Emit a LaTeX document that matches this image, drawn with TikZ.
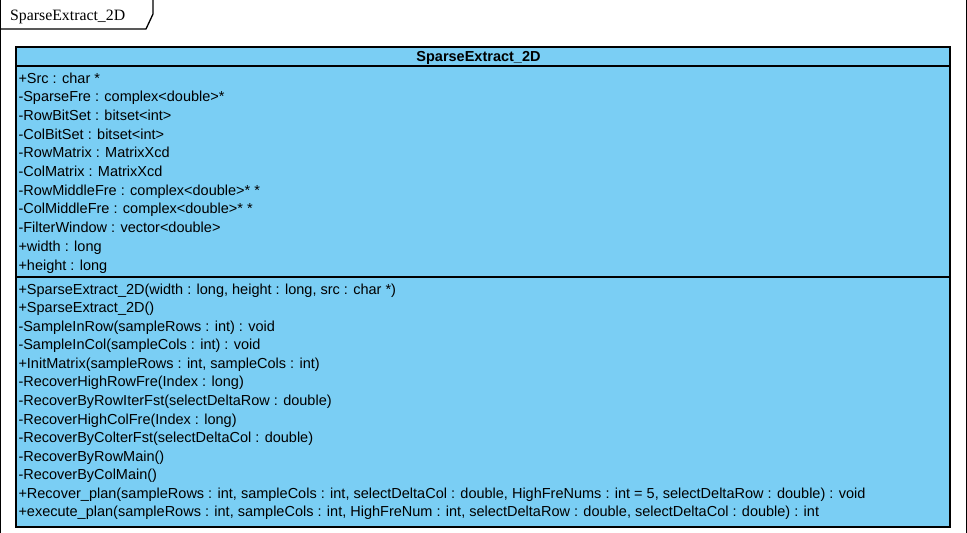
\documentclass[tikz,border=0pt]{standalone}
\usepackage{fontspec}
\setmainfont{Liberation Sans}
\newfontfamily\tabfont{Liberation Serif}
\definecolor{umlblue}{RGB}{122,206,244}
\begin{document}
\begin{tikzpicture}[x=1pt,y=-1pt,
  txt/.style={anchor=base west,inner sep=0pt,outer sep=0pt,font=\fontsize{14.5}{16}\selectfont},
  frameline/.style={line width=1.3pt,black},
  boxline/.style={line width=2pt,black}]
\useasboundingbox (0,0) rectangle (967,533);
% package frame
\draw[frameline] (0.7,540) -- (0.7,-2);
\draw[frameline] (966.3,540) -- (966.3,-2);
\draw[frameline] (153,-2) -- (153,14) -- (146,29) -- (0,29);
\node[anchor=base west,inner sep=0pt,font=\tabfont\fontsize{15.8}{18}\selectfont] (pkg) at (10,20.5) {SparseExtract\_2D};
% class box
\draw[boxline,fill=umlblue] (15.5,47) rectangle (950,526.5);
\draw[boxline] (15.5,66) -- (950,66);
\draw[boxline] (15.5,276.5) -- (950,276.5);
\node[anchor=base,inner sep=0pt,font=\bfseries\fontsize{14.5}{16}\selectfont] (cls) at (478.5,61) {SparseExtract\_2D};
% attributes
\foreach \t [count=\i from 0] in {
  {+Src : char *},
  {-SparseFre : complex<double>*},
  {-RowBitSet : bitset<int>},
  {-ColBitSet : bitset<int>},
  {-RowMatrix : MatrixXcd},
  {-ColMatrix : MatrixXcd},
  {-RowMiddleFre : complex<double>* *},
  {-ColMiddleFre : complex<double>* *},
  {-FilterWindow : vector<double>},
  {+width : long},
  {+height : long}}
  \node[txt] (attr\i) at (18.5,83+18.7*\i) {\t};
% operations
\foreach \t [count=\i from 0] in {
  {+SparseExtract\_2D(width : long, height : long, src : char *)},
  {+SparseExtract\_2D()},
  {-SampleInRow(sampleRows : int) : void},
  {-SampleInCol(sampleCols : int) : void},
  {+InitMatrix(sampleRows : int, sampleCols : int)},
  {-RecoverHighRowFre(Index : long)},
  {-RecoverByRowIterFst(selectDeltaRow : double)},
  {-RecoverHighColFre(Index : long)},
  {-RecoverByColterFst(selectDeltaCol : double)},
  {-RecoverByRowMain()},
  {-RecoverByColMain()},
  {+Recover\_plan(sampleRows : int, sampleCols : int, selectDeltaCol : double, HighFreNums : int = 5, selectDeltaRow : double) : void},
  {+execute\_plan(sampleRows : int, sampleCols : int, HighFreNum : int, selectDeltaRow : double, selectDeltaCol : double) : int}}
  \node[txt] (op\i) at (18.5,294.3+18.53*\i) {\t};
\end{tikzpicture}
\end{document}
